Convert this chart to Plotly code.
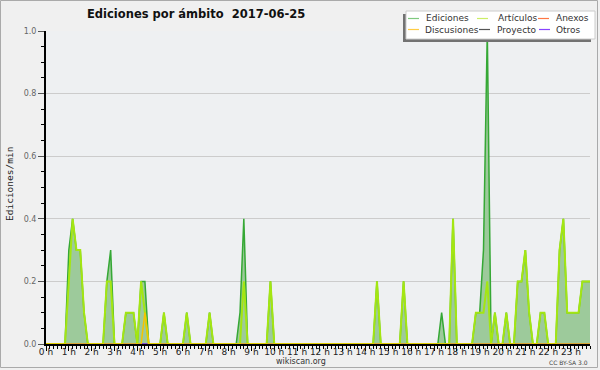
import plotly.graph_objects as go

# 10-minute bins, values in edits/min (one row per hour)
minutes = list(range(0, 1440, 10))
hour_labels = [f"{h} h" for h in range(24)]

ediciones = [
    0, 0, 0, 0, 0, 0,
    0.3, 0.4, 0.3, 0.3, 0.1, 0,
    0, 0, 0, 0, 0.2, 0.3,
    0, 0, 0, 0.1, 0.1, 0.1,
    0, 0.2, 0.2, 0, 0, 0,
    0, 0.1, 0, 0, 0, 0,
    0, 0.1, 0, 0, 0, 0,
    0, 0.1, 0, 0, 0, 0,
    0, 0, 0, 0.1, 0.4, 0,
    0, 0, 0, 0, 0, 0.2,
    0, 0, 0, 0, 0, 0,
    0, 0, 0, 0, 0, 0,
    0, 0, 0, 0, 0, 0,
    0, 0, 0, 0, 0, 0,
    0, 0, 0, 0.2, 0, 0,
    0, 0, 0, 0, 0.2, 0,
    0, 0, 0, 0, 0, 0,
    0, 0, 0.1, 0, 0, 0.4,
    0, 0, 0, 0, 0, 0.1,
    0.1, 0.3, 1.0, 0, 0.1, 0,
    0, 0.1, 0, 0, 0.2, 0.2,
    0.3, 0.1, 0, 0, 0.1, 0.1,
    0, 0, 0, 0.3, 0.4, 0.1,
    0.1, 0.1, 0.1, 0.2, 0.2, 0.2,
]
articulos = [
    0, 0, 0, 0, 0, 0,
    0.2, 0.4, 0.3, 0.3, 0.1, 0,
    0, 0, 0, 0, 0.2, 0.2,
    0, 0, 0, 0.1, 0.1, 0.1,
    0, 0.2, 0.1, 0, 0, 0,
    0, 0.1, 0, 0, 0, 0,
    0, 0.1, 0, 0, 0, 0,
    0, 0.1, 0, 0, 0, 0,
    0, 0, 0, 0, 0.2, 0,
    0, 0, 0, 0, 0, 0.2,
    0, 0, 0, 0, 0, 0,
    0, 0, 0, 0, 0, 0,
    0, 0, 0, 0, 0, 0,
    0, 0, 0, 0, 0, 0,
    0, 0, 0, 0.2, 0, 0,
    0, 0, 0, 0, 0.2, 0,
    0, 0, 0, 0, 0, 0,
    0, 0, 0, 0, 0, 0.4,
    0, 0, 0, 0, 0, 0.1,
    0.1, 0.1, 0.2, 0, 0.1, 0,
    0, 0.1, 0, 0, 0.2, 0.2,
    0.3, 0.1, 0, 0, 0.1, 0.1,
    0, 0, 0, 0.3, 0.4, 0.1,
    0.1, 0.1, 0.1, 0.2, 0.2, 0.2,
]
discusiones = [0] * 26 + [0.1] + [0] * 117
anexos = [0] * 144
proyecto = [0] * 144
otros = [0] * 144

x_hours = [m / 60 for m in minutes]

W, H = 600, 370
ML, MR, MT, MB = 46, 10, 31, 26
PW, PH = W - ML - MR, H - MT - MB


def px(x):
    return (x - ML) / PW


def py(y):
    return (H - MB - y) / PH


fig = go.Figure()
fig.add_trace(go.Scatter(x=x_hours, y=ediciones, mode="lines", name="Ediciones",
                         line=dict(color="#35a835", width=1.5), fill="tozeroy",
                         fillcolor="#9dca9b", showlegend=False))
for vals, name, col in [(anexos, "Anexos", "#ff7744"), (proyecto, "Proyecto", "#555555"),
                        (otros, "Otros", "#8844ff")]:
    fig.add_trace(go.Scatter(x=x_hours, y=vals, mode="lines", name=name,
                             line=dict(color=col, width=1.5), showlegend=False))
fig.add_trace(go.Scatter(x=x_hours, y=articulos, mode="lines", name="Artículos",
                         line=dict(color="#a4e612", width=2), showlegend=False))
fig.add_trace(go.Scatter(x=x_hours, y=discusiones, mode="lines", name="Discusiones",
                         line=dict(color="#f5c400", width=1.5), showlegend=False))

shapes = []
annotations = []

# outer frame
shapes.append(dict(type="rect", xref="paper", yref="paper", x0=px(0.5), x1=px(597.5),
                   y0=py(0.5), y1=py(367.5), line=dict(color="#aaaaaa", width=1),
                   fillcolor="rgba(0,0,0,0)", layer="below"))

# legend box with shadow
shapes.append(dict(type="rect", xref="paper", yref="paper", x0=px(403), x1=px(591),
                   y0=py(14), y1=py(42), line=dict(width=0), fillcolor="#727272"))
shapes.append(dict(type="rect", xref="paper", yref="paper", x0=px(406), x1=px(595),
                   y0=py(11), y1=py(39), line=dict(color="#cccccc", width=1),
                   fillcolor="#ffffff"))
legend_items = [
    ("Ediciones", "#7fc97f", 408, 424, 18.5),
    ("Artículos", "#ccee66", 477, 496, 18.5),
    ("Anexos", "#ff7744", 538, 554, 18.5),
    ("Discusiones", "#ffcc44", 408, 423, 29.5),
    ("Proyecto", "#555555", 479, 495, 29.5),
    ("Otros", "#8844ff", 539, 554, 29.5),
]
for name, col, lx, tx, ly in legend_items:
    shapes.append(dict(type="line", xref="paper", yref="paper", x0=px(lx), x1=px(lx + 11),
                       y0=py(ly), y1=py(ly), line=dict(color=col, width=1.2)))
    annotations.append(dict(text=name, xref="paper", yref="paper", x=px(tx), y=py(ly),
                            xanchor="left", yanchor="middle", showarrow=False,
                            font=dict(family="DejaVu Sans", size=9, color="#333333")))

# title
annotations.append(dict(text="<b>Ediciones por ámbito  2017-06-25</b>", xref="paper", yref="paper",
                        x=px(85), y=py(14), xanchor="left", yanchor="middle", showarrow=False,
                        font=dict(family="DejaVu Sans", size=11.5, color="#111111")))
# y axis title
annotations.append(dict(text="Ediciones/min", xref="paper", yref="paper", x=px(9), y=py(184),
                        xanchor="center", yanchor="middle", textangle=-90, showarrow=False,
                        font=dict(family="DejaVu Sans Mono", size=9.5, color="#222222")))
# footer
annotations.append(dict(text="wikiscan.org", xref="paper", yref="paper", x=px(300.5), y=py(361.5),
                        xanchor="center", yanchor="middle", showarrow=False,
                        font=dict(family="DejaVu Sans", size=8, color="#333333")))
annotations.append(dict(text="CC BY-SA 3.0", xref="paper", yref="paper", x=px(590), y=py(362.5),
                        xanchor="right", yanchor="middle", showarrow=False,
                        font=dict(family="DejaVu Sans", size=6, color="#444444")))

fig.update_layout(
    width=W, height=H,
    margin=dict(l=ML, r=MR, t=MT, b=MB, pad=0, autoexpand=False),
    paper_bgcolor="#f0f0f0", plot_bgcolor="#eef0f2",
    shapes=shapes, annotations=annotations, showlegend=False,
    xaxis=dict(range=[0, 23 + 5 / 6], tickvals=list(range(24)), ticktext=hour_labels,
               showgrid=False, zeroline=False, showline=True, linecolor="#000000", linewidth=2,
               ticks="outside", ticklen=5, tickwidth=1, tickcolor="#000000",
               ticklabelstandoff=-7,
               tickfont=dict(family="DejaVu Sans", size=9, color="#222222"),
               minor=dict(dtick=1 / 6, tick0=0, ticks="outside", ticklen=3, tickcolor="#000000", tickwidth=1),
               fixedrange=True, automargin=False),
    yaxis=dict(range=[0, 1], tickvals=[0, 0.2, 0.4, 0.6, 0.8, 1.0],
               ticktext=["0.0", "0.2", "0.4", "0.6", "0.8", "1.0"],
               showgrid=True, gridcolor="#cccccc", gridwidth=1, zeroline=False,
               showline=True, linecolor="#000000", linewidth=2,
               ticks="outside", ticklen=6, tickwidth=1, tickcolor="#555555",
               tickfont=dict(family="DejaVu Sans", size=8, color="#666666"),
               minor=dict(dtick=0.05, tick0=0, ticks="outside", ticklen=3, tickcolor="#000000", tickwidth=1,
                          showgrid=False),
               fixedrange=True, automargin=False),
)

fig.write_html("out.html", config={"displayModeBar": False},
               post_script="document.body.style.margin='0';document.body.style.padding='0';")
